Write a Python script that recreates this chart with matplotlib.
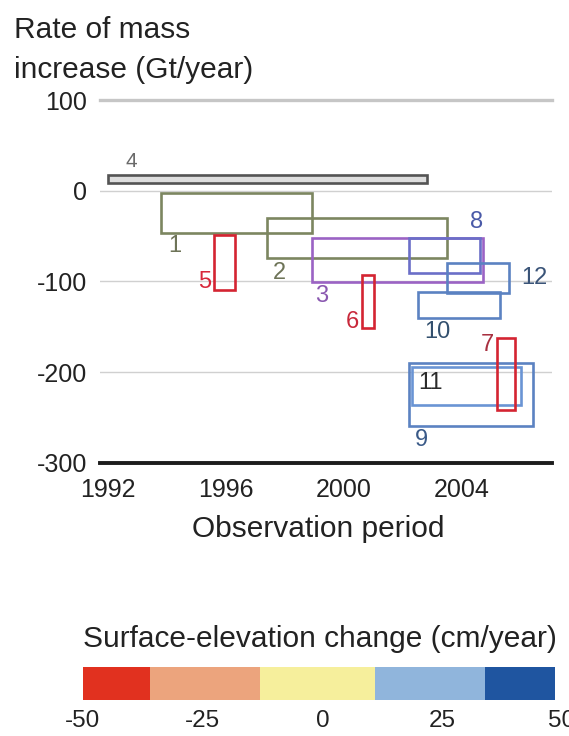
import matplotlib
matplotlib.use("Agg")
import matplotlib.pyplot as plt
from matplotlib.patches import Rectangle
from matplotlib.colors import ListedColormap
import numpy as np

plt.rcParams['font.family'] = ['Liberation Sans', 'DejaVu Sans']
plt.rcParams['axes.unicode_minus'] = False

# Mass-balance estimates: observation period (years) and rate range (Gt/year)
study_ids = ['4', '1', '2', '3', '5', '6', '8', '12', '10', '9', '11', '7']
year_start = [1992.0, 1993.8, 1997.4, 1998.9, 1995.6, 2000.6, 2002.2, 2003.5, 2002.5, 2002.2, 2002.3, 2005.2]
year_end = [2002.8, 1998.9, 2003.5, 2004.7, 1996.3, 2001.0, 2004.6, 2005.6, 2005.3, 2006.4, 2006.0, 2005.8]
rate_low = [8, -47, -74, -101, -110, -151, -91, -113, -140, -259, -236, -242]
rate_high = [17, -3, -30, -52, -49, -93, -52, -80, -112, -190, -194, -162]

y_ticks = [100, 0, -100, -200, -300]
y_tick_labels = ['100', '0', '-100', '-200', '-300']
x_ticks = [1992, 1996, 2000, 2004]
x_tick_labels = ['1992', '1996', '2000', '2004']

# Surface-elevation change classes (cm/year)
cbar_bounds = [-50, -36, -13, 11, 34, 48.5]
cbar_colors = ['#e1311f', '#eca47d', '#f6ef9c', '#90b5dc', '#1f55a0']
cbar_ticks = [-50, -25, 0, 25, 50]
cbar_tick_labels = ['-50', '-25', '0', '25', '50']

# Styling per study
edge_colors = {
    '4': '#545454', '1': '#7c8660', '2': '#7c8660', '3': '#9b63c4',
    '5': '#d42432', '6': '#d42432', '7': '#d42432', '8': '#6b6fc8',
    '9': '#5b82c2', '10': '#5b82c2', '12': '#5b82c2', '11': '#6a94d4',
}
label_colors = {
    '4': '#6a6a6a', '1': '#6e7458', '2': '#6e7458', '3': '#8a58b0',
    '5': '#d8283c', '6': '#c8283a', '7': '#a83040', '8': '#4a5aa8',
    '9': '#3a5a88', '10': '#33506e', '11': '#2a2a2a', '12': '#3a5478',
}
# label anchor corner and pixel offset from it
label_place = {
    '4': ('left', 'top', 23, 14), '1': ('left', 'bottom', 14, -13),
    '2': ('left', 'bottom', 12, -15), '3': ('left', 'bottom', 10, -14),
    '5': ('left', 'bottom', -10, 8), '6': ('left', 'bottom', -9, 6),
    '8': ('right', 'top', -3, 16), '12': ('right', 'top', 25, -15),
    '10': ('left', 'bottom', 20, -14), '7': ('left', 'top', -10, -7),
    '11': ('left', 'top', 19, -16), '9': ('left', 'bottom', 13, -14),
}

W, H = 569, 736
fig = plt.figure(figsize=(W / 100, H / 100), dpi=100)
fig.patch.set_facecolor('white')

ax = fig.add_axes([100 / W, 1 - 462.7 / H, 452 / W, 362.7 / H])
ax.set_xlim(1991.73, 2007.05)
ax.set_ylim(-300, 100)
for s in ax.spines.values():
    s.set_visible(False)

# horizontal reference lines
ax.axhline(100, color='#c6c6c6', lw=2.4, clip_on=False, zorder=0)
for v in [0, -100, -200]:
    ax.axhline(v, color='#d0d0d0', lw=1.0, zorder=0)
ax.axhline(-300, color='#1c1c1c', lw=2.8, clip_on=False, zorder=3)

for sid, x0, x1, lo, hi in zip(study_ids, year_start, year_end, rate_low, rate_high):
    face = '#dedede' if sid == '4' else 'none'
    ax.add_patch(Rectangle((x0, lo), x1 - x0, hi - lo, facecolor=face,
                           edgecolor=edge_colors[sid], lw=1.9, zorder=2))
    hx, vy, dx, dy = label_place[sid]
    ax_x = x0 if hx == 'left' else x1
    ax_y = hi if vy == 'top' else lo
    ax.annotate(sid, (ax_x, ax_y), xytext=(dx, dy), textcoords='offset pixels',
                ha='center', va='center', fontsize=15 if sid == '4' else 17,
                color=label_colors[sid], zorder=4)

ax.set_yticks(y_ticks)
ax.set_yticklabels(y_tick_labels)
ax.set_xticks(x_ticks)
ax.set_xticklabels(x_tick_labels)
ax.tick_params(axis='y', length=0, pad=9.5, labelsize=18, labelcolor='#222222')
ax.tick_params(axis='x', length=0, pad=11, labelsize=18, labelcolor='#222222')

# axis titles
ylabel_lines = ['Rate of mass', 'increase (Gt/year)']
for line, base in zip(ylabel_lines, [38, 78]):
    fig.text(14 / W, 1 - base / H, line, fontsize=21.5, color='#222222',
             ha='left', va='baseline')
fig.text(318 / W, 1 - 537 / H, 'Observation period', fontsize=21.5,
         color='#222222', ha='center', va='baseline')

# colour scale
cax = fig.add_axes([83 / W, 1 - 700 / H, (562 - 83) / W, 33 / H])
cax.pcolormesh(cbar_bounds, [0, 1], [np.arange(len(cbar_colors))],
               cmap=ListedColormap(cbar_colors), vmin=0, vmax=len(cbar_colors) - 1)
cax.set_xlim(-50, 50)
cax.set_ylim(0, 1)
for s in cax.spines.values():
    s.set_visible(False)
cax.set_yticks([])
cax.set_xticks(cbar_ticks)
cax.set_xticklabels(cbar_tick_labels)
cax.tick_params(axis='x', length=0, pad=7, labelsize=17.5, labelcolor='#222222')
fig.text(83 / W, 1 - 647 / H, 'Surface-elevation change (cm/year)', fontsize=21.5,
         color='#222222', ha='left', va='baseline')

fig.savefig('out.png', dpi=100, facecolor='white')
